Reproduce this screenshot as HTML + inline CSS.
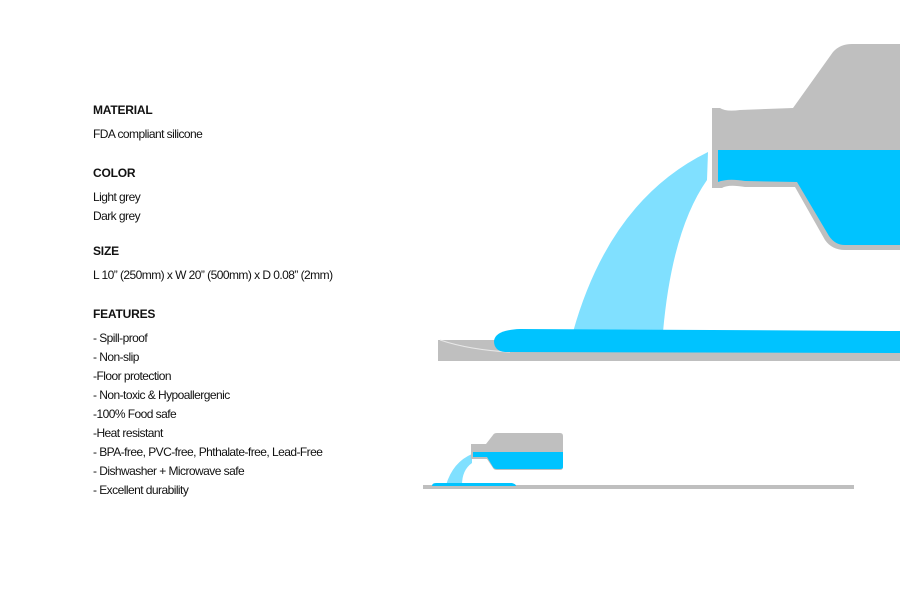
<!DOCTYPE html>
<html><head><meta charset="utf-8"><style>
body{margin:0;width:900px;height:600px;background:#fff;overflow:hidden}
svg{display:block}
text{font-family:"Liberation Sans",sans-serif;font-size:12px;letter-spacing:-0.55px;fill:#111}
.b{font-weight:bold;letter-spacing:-0.2px}
</style></head><body>
<svg width="900" height="600" viewBox="0 0 900 600">
<text class="b" x="93" y="114">MATERIAL</text>
<text x="93" y="138">FDA compliant silicone</text>
<text class="b" x="93" y="177">COLOR</text>
<text x="93" y="201">Light grey</text>
<text x="93" y="220">Dark grey</text>
<text class="b" x="93" y="255">SIZE</text>
<text x="93" y="279">L 10” (250mm) x W 20” (500mm) x D 0.08” (2mm)</text>
<text class="b" x="93" y="318">FEATURES</text>
<text x="93" y="342">- Spill-proof</text>
<text x="93" y="361">- Non-slip</text>
<text x="93" y="380">-Floor protection</text>
<text x="93" y="399">- Non-toxic &amp; Hypoallergenic</text>
<text x="93" y="418">-100% Food safe</text>
<text x="93" y="437">-Heat resistant</text>
<text x="93" y="456">- BPA-free, PVC-free, Phthalate-free, Lead-Free</text>
<text x="93" y="475">- Dishwasher + Microwave safe</text>
<text x="93" y="494">- Excellent durability</text>

<path d="M708 152 Q610 200 573 332 L663 332 Q672 230 707 180 Z" fill="#80e0ff"/>
<path d="M712 108 L720 108 Q726 112 740 110 L793 108 L833 52 Q840 44 852 44 L900 44 L900 250 L845 250 Q832 250 825 240 L795 187 L745 187 Q728 184 722 188 L712 188 Z" fill="#bfbfbf"/>
<path d="M718 150 L900 150 L900 245 L845 245 Q835 245 829 236 L797 182 L745 181 Q728 178 718 182 Z" fill="#00c3ff"/>
<path d="M438 340 L900 340 L900 361 L438 361 Z" fill="#bfbfbf"/>
<path d="M440 340 Q470 350 510 352" fill="none" stroke="#e8e8e8" stroke-width="1"/>
<path d="M520 329 L900 331 L900 353 L505 352 Q494 351 494 341 Q495 330 520 329 Z" fill="#00c3ff"/>
<path d="M472 454 Q453 462 446 485 L462 485 Q462 470 472 463 Z" fill="#80e0ff"/>
<path d="M471 444 L486 444 L493 435 Q494 433 497 433 L560 433 Q563 433 563 436 L563 467 Q563 470 560 470 L497 470 Q494 470 493 468 L487 459 L471 459 Z" fill="#bfbfbf"/>
<path d="M473 452 L563 452 L563 467 Q563 469 560 469 L497 469 Q494 469 493 467 L487 457 L473 457 Z" fill="#00c3ff"/>
<rect x="423" y="485" width="431" height="4" fill="#bfbfbf"/>
<path d="M436 483 L512 483 Q516 484 516 486 L432 486 Q432 483 436 483 Z" fill="#00c3ff"/>
</svg>
</body></html>
